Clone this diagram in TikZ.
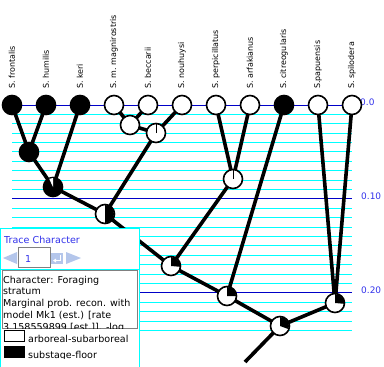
\documentclass[tikz,border=0pt]{standalone}
\usepackage{fontspec}
\setmainfont{DejaVu Sans}
\usetikzlibrary{backgrounds}
\usetikzlibrary{calc}
\definecolor{bleufonce}{RGB}{0,0,200}
\definecolor{cyanligne}{RGB}{0,255,255}
\definecolor{bleutexte}{RGB}{50,50,235}
\definecolor{bleuclair}{RGB}{180,198,235}
\tikzstyle{feuille}=[circle,draw,line width=1.6bp,minimum size=19bp,inner sep=0pt,fill=white]
\tikzstyle{noir}=[feuille,fill=black]
\tikzstyle{blanc}=[feuille]
\tikzstyle{etiquette}=[rotate=90,anchor=west,inner sep=0pt,font=\fontsize{8}{9}\selectfont]
\tikzstyle{branche}=[line width=3.6bp]
\tikzstyle{ligne}=[cyanligne,line width=1bp]
\tikzstyle{ligneforte}=[bleufonce,line width=1bp]
\tikzstyle{echelle}=[text=bleutexte,anchor=base west,inner sep=0pt,font=\fontsize{9}{10}\selectfont]
\tikzstyle{texte}=[anchor=base west,inner sep=0pt,font=\fontsize{9.6}{11.5}\selectfont]
\newcommand{\secteur}[4]{\fill[#2] (#1.center) -- ++(#3:9bp) arc[start angle=#3,end angle=#4,radius=9bp] -- cycle;}

\begin{document}
\begin{tikzpicture}[x=1bp,y=1bp]
\useasboundingbox (0,0) rectangle (384,-367);
%feuilles
\node[noir] (fr) at (12,-105) {};
\node[noir] (hu) at (46,-105) {};
\node[noir] (ke) at (80,-105) {};
\node[blanc] (ma) at (114,-105) {};
\node[blanc] (be) at (148,-105) {};
\node[blanc] (no) at (182,-105) {};
\node[blanc] (pe) at (216,-105) {};
\node[blanc] (ar) at (250,-105) {};
\node[noir] (ci) at (284,-105) {};
\node[blanc] (pa) at (318,-105) {};
\node[blanc] (sp) at (352,-105) {};
\node[etiquette] (lfr) at (12,-89) {S. frontalis};
\node[etiquette] (lhu) at (46,-89) {S. humilis};
\node[etiquette] (lke) at (80,-89) {S. keri};
\node[etiquette] (lma) at (114,-89) {S. m. magnirostris};
\node[etiquette] (lbe) at (148,-89) {S. beccarii};
\node[etiquette] (lno) at (182,-89) {S. nouhuysi};
\node[etiquette] (lpe) at (216,-89) {S. perpicillatus};
\node[etiquette] (lar) at (250,-89) {S. arfakianus};
\node[etiquette] (lci) at (284,-89) {S. citreogularis};
\node[etiquette] (lpa) at (318,-89) {S.papuensis};
\node[etiquette] (lsp) at (352,-89) {S. spilodera};
%noeuds internes
\node[noir] (a) at (29,-152) {};
\node[noir] (b) at (53,-187) {};
\node[blanc] (c) at (105,-214) {};
\node[blanc] (mb) at (130,-125) {};
\node[blanc] (mn) at (156,-133) {};
\node[blanc] (pz) at (233,-179) {};
\node[blanc] (d) at (171,-266) {};
\node[blanc] (e) at (227,-296) {};
\node[blanc] (ps) at (335,-303) {};
\node[blanc] (f) at (280,-326) {};
\coordinate (racine) at (245,-362);
\secteur{b}{white}{90}{115}
\secteur{c}{black}{90}{-90}
\secteur{d}{black}{90}{-5}
\secteur{e}{black}{90}{0}
\secteur{ps}{black}{90}{-5}
\secteur{f}{black}{90}{-20}
\draw[line width=1bp] (mn.center) -- ++(0,9);
\draw[line width=1bp] (pz.center) -- ++(0,9);
%branches et echelle
\begin{pgfonlayer}{background}
\foreach \i in {0,...,24}{
  \pgfmathsetmacro\yy{-floor(105+9.4*\i)-0.5}
  \draw[ligne] (12,\yy) -- (352,\yy);
}
\foreach \i in {0,10,20}{
  \pgfmathsetmacro\yy{-floor(105+9.4*\i)-0.5}
  \draw[ligneforte] (12,\yy) -- (352,\yy);
}
\node[echelle] (e0) at (360,-105) {0.0};
\node[echelle] (e1) at (361,-199) {0.10};
\node[echelle] (e2) at (361,-293) {0.20};
\draw[branche] (fr.center) -- (a.center);
\draw[branche] (hu.center) -- (a.center);
\draw[branche] (a.center) -- (b.center);
\draw[branche] (ke.center) -- (b.center);
\draw[branche] (b.center) -- (c.center);
\draw[branche] (ma.center) -- (mb.center);
\draw[branche] (be.center) -- (mb.center);
\draw[branche] (mb.center) -- (mn.center);
\draw[branche] (no.center) -- (mn.center);
\draw[branche] (mn.center) -- (c.center);
\draw[branche] (c.center) -- (d.center);
\draw[branche] (pe.center) -- (pz.center);
\draw[branche] (ar.center) -- (pz.center);
\draw[branche] (pz.center) -- (d.center);
\draw[branche] (d.center) -- (e.center);
\draw[branche] (ci.center) -- (e.center);
\draw[branche] (e.center) -- (f.center);
\draw[branche] (pa.center) -- (ps.center);
\draw[branche] (sp.center) -- (ps.center);
\draw[branche] (ps.center) -- (f.center);
\draw[branche] (f.center) -- (racine);
\end{pgfonlayer}
%panneau
\draw[cyanligne,line width=1bp,fill=white] (0.5,-228.5) rectangle (139.5,-367.5);
\draw[cyanligne,line width=1bp] (0.5,-269.5) -- (139.5,-269.5);
\node[texte,text=bleutexte] (trace) at (4,-243) {Trace Character};
\fill[bleuclair] (3,-258) -- (17,-252) -- (17,-264) -- cycle;
\node[draw=gray,line width=1bp,fill=white,minimum width=31bp,minimum height=20bp,inner sep=0pt] (champ) at (34.5,-257.5) {};
\node[texte,text=bleutexte] (num) at (25,-262) {1};
\fill[bleuclair] (51,-252.5) rectangle (63,-264);
\draw[white,line width=0.8bp] (60,-254.5) -- (60,-260.5) -- (54,-260.5);
\fill[white] (53,-260.5) -- (56,-258.5) -- (56,-262.5) -- cycle;
\fill[bleuclair] (81,-258) -- (66,-252) -- (66,-264) -- cycle;
\draw[gray,line width=1bp] (2.5,-270.5) rectangle (137.5,-328.5);
\begin{scope}
\clip (3,-271) rectangle (137,-328);
\node[texte] (t1) at (3,-283) {Character: Foraging};
\node[texte] (t2) at (3,-294.7) {stratum};
\node[texte] (t3) at (3,-306.4) {Marginal prob. recon. with};
\node[texte] (t4) at (3,-318.1) {model Mk1 (est.) [rate};
\node[texte] (t5) at (3,-330.5) {3.158559899 [est.]]. -log};
\end{scope}
\node[draw=black,line width=0.8bp,fill=white,minimum width=20bp,minimum height=11.5bp,inner sep=0pt] (cb) at (14.5,-336) {};
\node[fill=black,minimum width=21bp,minimum height=12bp,inner sep=0pt] (cn) at (14.5,-352) {};
\node[texte] (lb) at (28,-342) {arboreal-subarboreal};
\begin{scope}
\clip (25,-344) rectangle (139,-358.5);
\node[texte] (ln) at (28,-358) {substage-floor};
\end{scope}
\end{tikzpicture}
\end{document}
